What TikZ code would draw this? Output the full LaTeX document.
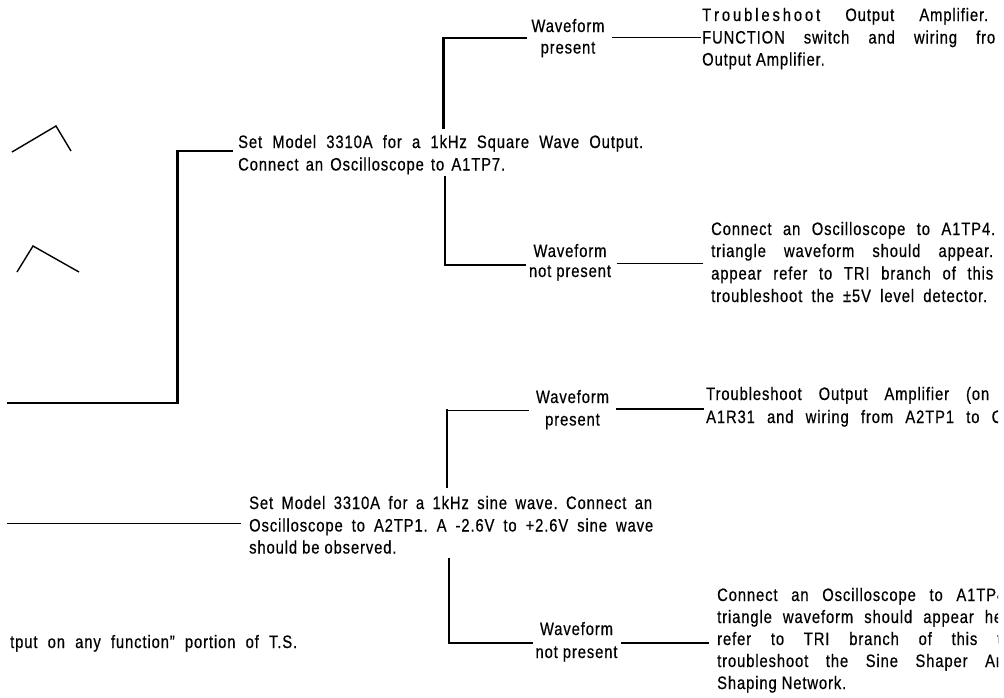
\documentclass[tikz,border=0pt]{standalone}
\usepackage{fontspec}
\setmainfont[FakeStretch=0.82,LetterSpace=5,FakeBold=0.5]{Liberation Sans}
\frenchspacing
\newcommand\jline[5]{\node[txt] (#1) at (#2,#3) {\makebox[#4pt][s]{#5}};}
\newcommand\nline[4]{\node[txt] (#1) at (#2,#3) {#4};}
\begin{document}
\begin{tikzpicture}[x=1pt,y=-1pt,
  txt/.style={inner sep=0pt,anchor=base west,font=\fontsize{18}{22}\selectfont},
  lab/.style={inner sep=0pt,anchor=base,font=\fontsize{18}{22}\selectfont},
  hw/.style={line width=1.7pt,line cap=rect},
  vw/.style={line width=2.1pt,line cap=rect},
  tri/.style={line width=1.4pt}]
\useasboundingbox (0,0) rectangle (1004,697);
\fill[white] (0,0) rectangle (1004,697);
\begin{scope}
\clip (9,0) rectangle (998,697);
% ---- box 1 ----
\jline{b1a}{238}{148}{405}{Set Model 3310A for a 1kHz Square Wave Output.}
\jline{b1b}{238}{170.5}{267}{Connect an Oscilloscope to A1TP7.}
% label 1
\node[lab] (l1a) at (568,32) {Waveform};
\node[lab] (l1b) at (568,53.5) {present};
% paragraph 1
\jline{p1a}{702}{21}{286}{\makebox[118pt][s]{T\hfil r\hfil o\hfil u\hfil b\hfil l\hfil e\hfil s\hfil h\hfil o\hfil o\hfil t} Output Amplifier.}
\jline{p1b}{702}{43.5}{293}{FUNCTION switch and wiring fro}
\nline{p1c}{702}{65.5}{Output Amplifier.}
% label 2
\node[lab] (l2a) at (570,257) {Waveform};
\node[lab] (l2b) at (570,277) {not present};
% paragraph 2
\jline{p2a}{711}{235}{284}{Connect an Oscilloscope to A1TP4.}
\jline{p2b}{711}{257}{282}{triangle waveform should appear.}
\jline{p2c}{711}{279.5}{282}{appear refer to TRI branch of this}
\jline{p2d}{711}{302}{276}{troubleshoot the ±5V level detector.}
% ---- box 2 ----
\jline{b2a}{249}{509}{403}{Set Model 3310A for a 1kHz sine wave. Connect an}
\jline{b2b}{249}{531.5}{404}{Oscilloscope to A2TP1. A -2.6V to +2.6V sine wave}
\nline{b2c}{249}{553.5}{should be observed.}
% label 3
\node[lab] (l3a) at (572.5,403) {Waveform};
\node[lab] (l3b) at (572.5,425.5) {present};
% paragraph 3
\jline{p3a}{706}{400}{283}{Troubleshoot Output Amplifier (on}
\jline{p3b}{706}{423}{297}{A1R31 and wiring from A2TP1 to O}
% label 4
\node[lab] (l4a) at (576.5,635) {Waveform};
\node[lab] (l4b) at (576.5,658) {not present};
% paragraph 4
\jline{p4a}{717}{601}{288}{Connect an Oscilloscope to A1TP4}
\jline{p4b}{717}{623}{285}{triangle waveform should appear he}
\jline{p4c}{717}{645}{284}{refer to TRI branch of this t}
\jline{p4d}{717}{667}{291}{troubleshoot the Sine Shaper Am}
\nline{p4e}{717}{689}{Shaping Network.}
% bottom-left fragment
\jline{frag}{10}{648}{287}{tput on any function'' portion of T.S.}
\end{scope}
% ---- coordinates for connectors ----
\coordinate (a1) at (8,403);
\coordinate (a2) at (177.5,403);
\coordinate (a3) at (177.5,151);
\coordinate (a4) at (232,151);
\coordinate (u1) at (443.5,128);
\coordinate (u2) at (443.5,38);
\coordinate (u3) at (526,38);
\coordinate (u4) at (613,37.5);
\coordinate (u5) at (700,37.5);
\coordinate (d1) at (445,177);
\coordinate (d2) at (445,265);
\coordinate (d3) at (525,265);
\coordinate (d4) at (618,263.5);
\coordinate (d5) at (702,263.5);
\coordinate (e1) at (8,523.5);
\coordinate (e2) at (240,523.5);
\coordinate (s1) at (447,487);
\coordinate (s2) at (447,410.5);
\coordinate (s3) at (528,410.5);
\coordinate (s4) at (617,409);
\coordinate (s5) at (703,409);
\coordinate (t1) at (449,559);
\coordinate (t2) at (449,643);
\coordinate (t3) at (532,643);
\coordinate (t4) at (622,643);
\coordinate (t5) at (708,643);
% ---- connectors ----
\draw[hw] (a1) -- (a2);
\draw[vw] (a2) -- (a3);
\draw[hw] (a3) -- (a4);
\draw[vw] (u1) -- (u2);
\draw[hw] (u2) -- (u3);
\draw[hw] (u4) -- (u5);
\draw[vw] (d1) -- (d2);
\draw[hw] (d2) -- (d3);
\draw[hw] (d4) -- (d5);
\draw[hw] (e1) -- (e2);
\draw[vw] (s1) -- (s2);
\draw[hw] (s2) -- (s3);
\draw[hw] (s4) -- (s5);
\draw[vw] (t1) -- (t2);
\draw[hw] (t2) -- (t3);
\draw[hw] (t4) -- (t5);
% ---- waveform fragments ----
\draw[tri] (12,152) -- (56,126) -- (71,151);
\draw[tri] (17,272) -- (33,246) -- (79,272);
\end{tikzpicture}
\end{document}
